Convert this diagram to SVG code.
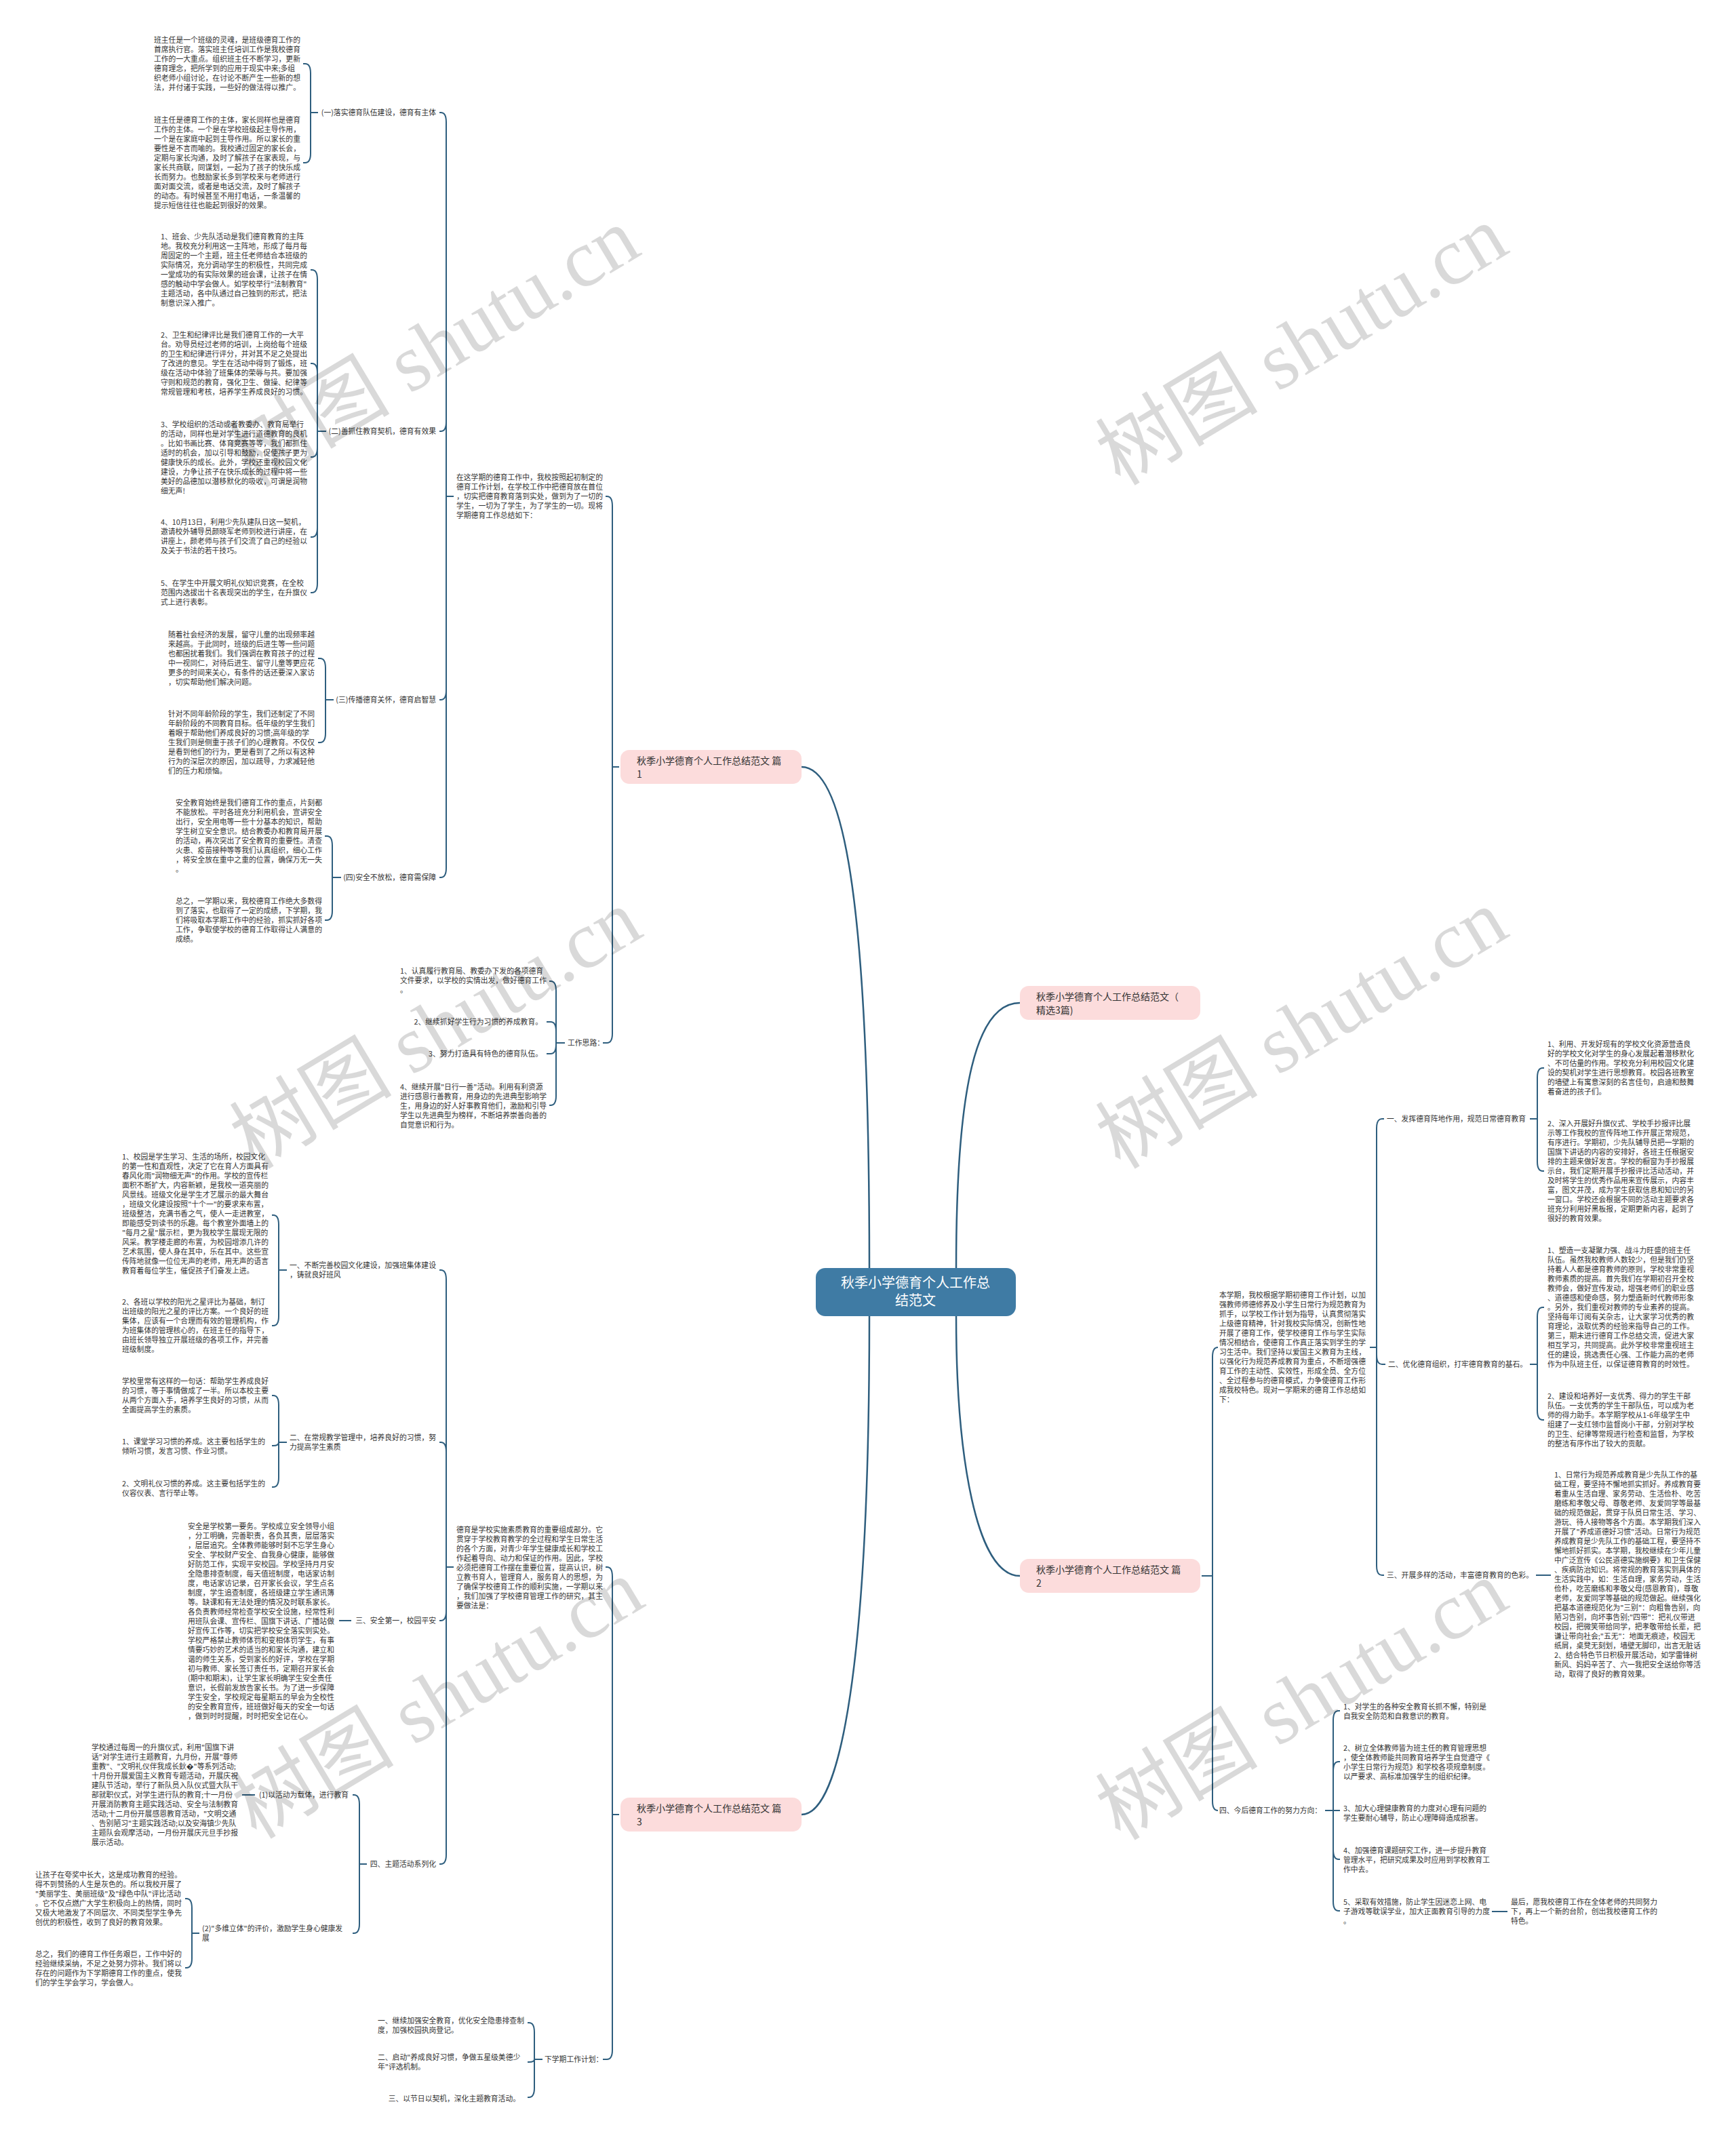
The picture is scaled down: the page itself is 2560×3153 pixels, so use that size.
<svg xmlns="http://www.w3.org/2000/svg" width="2560" height="3153" viewBox="0 0 2560 3153">
<style>
.t{font-family:"Noto Sans CJK SC","Noto Sans",sans-serif;font-size:10.8px;fill:#333}
.e{text-anchor:end}
.nd{font-family:"Noto Sans CJK SC","Noto Sans",sans-serif;font-size:14px;fill:#333}
.rt{font-family:"Noto Sans CJK SC","Noto Sans",sans-serif;font-size:20px;fill:#fff;text-anchor:middle}
.c{fill:none;stroke:#2e5e7e;stroke-width:2}
.cm{fill:none;stroke:#2e5e7e;stroke-width:2.5}
.pk{fill:#fcdcdc}
.wm{font-size:120px;fill:#000;fill-opacity:0.15;text-anchor:middle}
</style>
<rect width="2560" height="3153" fill="#fff"/>
<g id="connectors">
<path class="cm" d="M1282 1870 C1282 1300 1240 1131 1182 1131"/>
<path class="cm" d="M1410 1870 C1410 1600 1440 1479 1504 1479"/>
<path class="cm" d="M1410 1941 C1410 2150 1440 2324 1504 2324"/>
<path class="cm" d="M1282 1941 C1282 2450 1240 2676 1182 2676"/>
<path class="c" d="M913 1131 H903 V746 Q903 732 895 732 H893"/>
<path class="c" d="M913 1131 H903 V1524 Q903 1538 895 1538 H889"/>
<path class="c" d="M669 732 H658 V180 Q658 166 650 166 H648"/>
<path class="c" d="M669 732 H658 V622 Q658 636 650 636 H648"/>
<path class="c" d="M669 732 H658 V1018 Q658 1032 650 1032 H648"/>
<path class="c" d="M669 732 H658 V1280 Q658 1294 650 1294 H648"/>
<path class="c" d="M469 166 H458 V108 Q458 94 450 94 H447"/>
<path class="c" d="M469 166 H458 V226 Q458 240 450 240 H447"/>
<path class="c" d="M481 636 H468 V412 Q468 398 460 398 H458"/>
<path class="c" d="M481 636 H468 V550 Q468 536 460 536 H458"/>
<path class="c" d="M481 636 H468 V660 Q468 674 460 674 H458"/>
<path class="c" d="M481 636 H468 V778 Q468 792 460 792 H458"/>
<path class="c" d="M481 636 H468 V860 Q468 874 460 874 H458"/>
<path class="c" d="M492 1032 H480 V985 Q480 971 472 971 H469"/>
<path class="c" d="M492 1032 H480 V1081 Q480 1095 472 1095 H469"/>
<path class="c" d="M503 1294 H490 V1247 Q490 1233 482 1233 H479"/>
<path class="c" d="M503 1294 H490 V1343 Q490 1357 482 1357 H479"/>
<path class="c" d="M833 1538 H820 V1461 Q820 1447 812 1447 H810"/>
<path class="c" d="M833 1538 H820 V1521 Q820 1507 812 1507 H806"/>
<path class="c" d="M833 1538 H820 V1540 Q820 1554 812 1554 H806"/>
<path class="c" d="M833 1538 H820 V1616 Q820 1630 812 1630 H810"/>
<path class="c" d="M913 2676 H903 V2325 Q903 2311 895 2311 H893"/>
<path class="c" d="M913 2676 H903 V3023 Q903 3037 895 3037 H889"/>
<path class="c" d="M669 2311 H658 V1887 Q658 1873 650 1873 H648"/>
<path class="c" d="M669 2311 H658 V2141 Q658 2127 650 2127 H648"/>
<path class="c" d="M669 2311 H658 V2376 Q658 2390 650 2390 H648"/>
<path class="c" d="M669 2311 H658 V2735 Q658 2749 650 2749 H648"/>
<path class="c" d="M423 1873 H411 V1806 Q411 1792 403 1792 H401"/>
<path class="c" d="M423 1873 H411 V1941 Q411 1955 403 1955 H401"/>
<path class="c" d="M423 2127 H411 V2072 Q411 2058 403 2058 H401"/>
<path class="c" d="M423 2127 H411 Q411 2132 403 2132 H401"/>
<path class="c" d="M423 2127 H411 V2179 Q411 2193 403 2193 H401"/>
<path class="c" d="M518 2390 H500"/>
<path class="c" d="M541 2749 H530 V2661 Q530 2647 522 2647 H520"/>
<path class="c" d="M541 2749 H530 V2837 Q530 2851 522 2851 H520"/>
<path class="c" d="M376 2647 H357"/>
<path class="c" d="M294 2851 H283 V2814 Q283 2800 275 2800 H273"/>
<path class="c" d="M294 2851 H283 V2888 Q283 2902 275 2902 H273"/>
<path class="c" d="M800 3037 H788 V2997 Q788 2983 780 2983 H778"/>
<path class="c" d="M800 3037 H788 Q788 3041 780 3041 H778"/>
<path class="c" d="M800 3037 H788 V3079 Q788 3093 780 3093 H778"/>
<path class="c" d="M1772 2324 H1788 V2001 Q1788 1987 1796 1987"/>
<path class="c" d="M1772 2324 H1788 V2656 Q1788 2670 1796 2670"/>
<path class="c" d="M2020 1987 H2030 V1664 Q2030 1650 2038 1650 H2041"/>
<path class="c" d="M2020 1987 H2030 V1998 Q2030 2012 2038 2012 H2043"/>
<path class="c" d="M2020 1987 H2030 V2309 Q2030 2323 2038 2323 H2041"/>
<path class="c" d="M2256 1650 H2267 V1589 Q2267 1575 2275 1575 H2277"/>
<path class="c" d="M2256 1650 H2267 V1713 Q2267 1727 2275 1727 H2277"/>
<path class="c" d="M2256 2012 H2267 V1942 Q2267 1928 2275 1928 H2277"/>
<path class="c" d="M2256 2012 H2267 V2080 Q2267 2094 2275 2094 H2277"/>
<path class="c" d="M2265 2323 H2287"/>
<path class="c" d="M1954 2670 H1966 V2537 Q1966 2523 1974 2523 H1976"/>
<path class="c" d="M1954 2670 H1966 V2612 Q1966 2598 1974 2598 H1976"/>
<path class="c" d="M1954 2670 H1976"/>
<path class="c" d="M1954 2670 H1966 V2728 Q1966 2742 1974 2742 H1976"/>
<path class="c" d="M1954 2670 H1966 V2804 Q1966 2818 1974 2818 H1976"/>
<path class="c" d="M2200 2819 H2223"/>
</g>
<g id="root">
<rect x="1203" y="1870" width="295" height="71" rx="14" fill="#3f7ba4"/>
<text class="rt" x="1350" y="1899">秋季小学德育个人工作总</text>
<text class="rt" x="1350" y="1925">结范文</text>
</g>
<g id="b1">
<rect class="pk" x="915" y="1106" width="267" height="50" rx="13"/>
<text class="nd" x="939" y="1127">秋季小学德育个人工作总结范文 篇<tspan x="939" dy="20">1</tspan></text>
</g>
<g id="b0">
<rect class="pk" x="1504" y="1454" width="266" height="50" rx="13"/>
<text class="nd" x="1528" y="1475">秋季小学德育个人工作总结范文（<tspan x="1528" dy="20">精选3篇)</tspan></text>
</g>
<g id="b2">
<rect class="pk" x="1504" y="2299" width="266" height="50" rx="13"/>
<text class="nd" x="1528" y="2320">秋季小学德育个人工作总结范文 篇<tspan x="1528" dy="20">2</tspan></text>
</g>
<g id="b3">
<rect class="pk" x="915" y="2651" width="267" height="50" rx="13"/>
<text class="nd" x="939" y="2672">秋季小学德育个人工作总结范文 篇<tspan x="939" dy="20">3</tspan></text>
</g>
<g id="b1-intro">
<text class="t" x="673" y="708">在这学期的德育工作中，我校按照起初制定的<tspan x="673" dy="14">德育工作计划，在学校工作中把德育放在首位</tspan><tspan x="673" dy="14">，切实把德育教育落到实处，做到为了一切的</tspan><tspan x="673" dy="14">学生，一切为了学生，为了学生的一切。现将</tspan><tspan x="673" dy="14">学期德育工作总结如下：</tspan></text>
</g>
<g id="b1-l1"><text class="t e" x="643" y="170">(一)落实德育队伍建设，德育有主体</text></g>
<g id="b1-p1a">
<text class="t" x="227" y="63">班主任是一个班级的灵魂，是班级德育工作的<tspan x="227" dy="14">首席执行官。落实班主任培训工作是我校德育</tspan><tspan x="227" dy="14">工作的一大重点。组织班主任不断学习，更新</tspan><tspan x="227" dy="14">德育理念，把所学到的应用于现实中来;多组</tspan><tspan x="227" dy="14">织老师小组讨论，在讨论不断产生一些新的想</tspan><tspan x="227" dy="14">法，并付诸于实践，一些好的做法得以推广。</tspan></text>
</g>
<g id="b1-p1b">
<text class="t" x="227" y="181">班主任是德育工作的主体，家长同样也是德育<tspan x="227" dy="14">工作的主体。一个是在学校班级起主导作用，</tspan><tspan x="227" dy="14">一个是在家庭中起到主导作用。所以家长的重</tspan><tspan x="227" dy="14">要性是不言而喻的。我校通过固定的家长会，</tspan><tspan x="227" dy="14">定期与家长沟通，及时了解孩子在家表现，与</tspan><tspan x="227" dy="14">家长共商联，同谋划，一起为了孩子的快乐成</tspan><tspan x="227" dy="14">长而努力。也鼓励家长多到学校来与老师进行</tspan><tspan x="227" dy="14">面对面交流，或者是电话交流，及时了解孩子</tspan><tspan x="227" dy="14">的动态。有时候甚至不用打电话，一条温馨的</tspan><tspan x="227" dy="14">提示短信往往也能起到很好的效果。</tspan></text>
</g>
<g id="b1-l2"><text class="t e" x="643" y="640">(二)善抓住教育契机，德育有效果</text></g>
<g id="b1-p21">
<text class="t" x="237" y="353">1、班会、少先队活动是我们德育教育的主阵<tspan x="237" dy="14">地。我校充分利用这一主阵地，形成了每月每</tspan><tspan x="237" dy="14">周固定的一个主题，班主任老师结合本班级的</tspan><tspan x="237" dy="14">实际情况，充分调动学生的积极性，共同完成</tspan><tspan x="237" dy="14">一堂成功的有实际效果的班会课，让孩子在情</tspan><tspan x="237" dy="14">感的触动中学会做人。如学校举行"法制教育"</tspan><tspan x="237" dy="14">主题活动，各中队通过自己独到的形式，把法</tspan><tspan x="237" dy="14">制意识深入推广。</tspan></text>
</g>
<g id="b1-p22">
<text class="t" x="237" y="498">2、卫生和纪律评比是我们德育工作的一大平<tspan x="237" dy="14">台。劝导员经过老师的培训，上岗给每个班级</tspan><tspan x="237" dy="14">的卫生和纪律进行评分，并对其不足之处提出</tspan><tspan x="237" dy="14">了改进的意见。学生在活动中得到了锻炼，班</tspan><tspan x="237" dy="14">级在活动中体验了班集体的荣辱与共。要加强</tspan><tspan x="237" dy="14">守则和规范的教育，强化卫生、做操、纪律等</tspan><tspan x="237" dy="14">常规管理和考核，培养学生养成良好的习惯。</tspan></text>
</g>
<g id="b1-p23">
<text class="t" x="237" y="630">3、学校组织的活动或者教委办、教育局举行<tspan x="237" dy="14">的活动，同样也是对学生进行道德教育的良机</tspan><tspan x="237" dy="14">。比如书画比赛、体育竞赛等等，我们都抓住</tspan><tspan x="237" dy="14">适时的机会，加以引导和鼓励，促使孩子更为</tspan><tspan x="237" dy="14">健康快乐的成长。此外，学校还重视校园文化</tspan><tspan x="237" dy="14">建设，力争让孩子在快乐成长的过程中将一些</tspan><tspan x="237" dy="14">美好的品德加以潜移默化的吸收，可谓是润物</tspan><tspan x="237" dy="14">细无声!</tspan></text>
</g>
<g id="b1-p24">
<text class="t" x="237" y="774">4、10月13日，利用少先队建队日这一契机，<tspan x="237" dy="14">邀请校外辅导员颜晓军老师到校进行讲座，在</tspan><tspan x="237" dy="14">讲座上，颜老师与孩子们交流了自己的经验以</tspan><tspan x="237" dy="14">及关于书法的若干技巧。</tspan></text>
</g>
<g id="b1-p25">
<text class="t" x="237" y="864">5、在学生中开展文明礼仪知识竞赛，在全校<tspan x="237" dy="14">范围内选拔出十名表现突出的学生，在升旗仪</tspan><tspan x="237" dy="14">式上进行表彰。</tspan></text>
</g>
<g id="b1-l3"><text class="t e" x="643" y="1036">(三)传播德育关怀，德育启智慧</text></g>
<g id="b1-p31">
<text class="t" x="248" y="940">随着社会经济的发展，留守儿童的出现频率越<tspan x="248" dy="14">来越高。于此同时，班级的后进生等一些问题</tspan><tspan x="248" dy="14">也都困扰着我们。我们强调在教育孩子的过程</tspan><tspan x="248" dy="14">中一视同仁，对待后进生、留守儿童等更应花</tspan><tspan x="248" dy="14">更多的时间来关心，有条件的话还要深入家访</tspan><tspan x="248" dy="14">，切实帮助他们解决问题。</tspan></text>
</g>
<g id="b1-p32">
<text class="t" x="248" y="1057">针对不同年龄阶段的学生，我们还制定了不同<tspan x="248" dy="14">年龄阶段的不同教育目标。低年级的学生我们</tspan><tspan x="248" dy="14">着眼于帮助他们养成良好的习惯;高年级的学</tspan><tspan x="248" dy="14">生我们则是侧重于孩子们的心理教育。不仅仅</tspan><tspan x="248" dy="14">是看到他们的行为，更是看到了之所以有这种</tspan><tspan x="248" dy="14">行为的深层次的原因，加以疏导，力求减轻他</tspan><tspan x="248" dy="14">们的压力和烦恼。</tspan></text>
</g>
<g id="b1-l4"><text class="t e" x="643" y="1298">(四)安全不放松，德育需保障</text></g>
<g id="b1-p41">
<text class="t" x="259" y="1188">安全教育始终是我们德育工作的重点，片刻都<tspan x="259" dy="14">不能放松。平时各班充分利用机会，宣讲安全</tspan><tspan x="259" dy="14">出行，安全用电等一些十分基本的知识，帮助</tspan><tspan x="259" dy="14">学生树立安全意识。结合教委办和教育局开展</tspan><tspan x="259" dy="14">的活动，再次突出了安全教育的重要性。清查</tspan><tspan x="259" dy="14">火患、疫苗接种等等我们认真组织，细心工作</tspan><tspan x="259" dy="14">，将安全放在重中之重的位置，确保万无一失</tspan><tspan x="259" dy="14">。</tspan></text>
</g>
<g id="b1-p42">
<text class="t" x="259" y="1333">总之，一学期以来，我校德育工作绝大多数得<tspan x="259" dy="14">到了落实，也取得了一定的成绩，下学期，我</tspan><tspan x="259" dy="14">们将吸取本学期工作中的经验，抓实抓好各项</tspan><tspan x="259" dy="14">工作，争取使学校的德育工作取得让人满意的</tspan><tspan x="259" dy="14">成绩。</tspan></text>
</g>
<g id="b1-plan"><text class="t" x="837" y="1542">工作思路：</text></g>
<g id="b1-plan1">
<text class="t" x="590" y="1436">1、认真履行教育局、教委办下发的各项德育<tspan x="590" dy="14">文件要求，以学校的实情出发，做好德育工作</tspan><tspan x="590" dy="14">。</tspan></text>
</g>
<g id="b1-plan2"><text class="t e" x="800" y="1511">2、继续抓好学生行为习惯的养成教育。</text></g>
<g id="b1-plan3"><text class="t e" x="800" y="1558">3、努力打造具有特色的德育队伍。</text></g>
<g id="b1-plan4">
<text class="t" x="590" y="1607">4、继续开展"日行一善"活动。利用有利资源<tspan x="590" dy="14">进行感恩行善教育，用身边的先进典型影响学</tspan><tspan x="590" dy="14">生，用身边的好人好事教育他们，激励和引导</tspan><tspan x="590" dy="14">学生以先进典型为榜样，不断培养崇善向善的</tspan><tspan x="590" dy="14">自觉意识和行为。</tspan></text>
</g>
<g id="b3-intro">
<text class="t" x="673" y="2260">德育是学校实施素质教育的重要组成部分。它<tspan x="673" dy="14">贯穿于学校教育教学的全过程和学生日常生活</tspan><tspan x="673" dy="14">的各个方面，对青少年学生健康成长和学校工</tspan><tspan x="673" dy="14">作起着导向、动力和保证的作用。因此，学校</tspan><tspan x="673" dy="14">必须把德育工作摆在重要位置，提高认识，树</tspan><tspan x="673" dy="14">立教书育人，管理育人，服务育人的思想，为</tspan><tspan x="673" dy="14">了确保学校德育工作的顺利实施，一学期以来</tspan><tspan x="673" dy="14">，我们加强了学校德育管理工作的研究，其主</tspan><tspan x="673" dy="14">要做法是：</tspan></text>
</g>
<g id="b3-l1"><text class="t" x="427" y="1870">一、不断完善校园文化建设，加强班集体建设<tspan x="427" dy="14">，铸就良好班风</tspan></text></g>
<g id="b3-p11">
<text class="t" x="180" y="1710">1、校园是学生学习、生活的场所，校园文化<tspan x="180" dy="14">的第一性和直观性，决定了它在育人方面具有</tspan><tspan x="180" dy="14">春风化雨"润物细无声"的作用。学校的宣传栏</tspan><tspan x="180" dy="14">面积不断扩大，内容新颖，是我校一道亮丽的</tspan><tspan x="180" dy="14">风景线。班级文化是学生才艺展示的最大舞台</tspan><tspan x="180" dy="14">，班级文化建设按照"十个一"的要求来布置，</tspan><tspan x="180" dy="14">班级整洁，充满书香之气，使人一走进教室，</tspan><tspan x="180" dy="14">即能感受到读书的乐趣。每个教室外面墙上的</tspan><tspan x="180" dy="14">"每月之星"展示栏，更为我校学生展现无限的</tspan><tspan x="180" dy="14">风采。教学楼走廊的布置，为校园增添几许的</tspan><tspan x="180" dy="14">艺术氛围，使人身在其中，乐在其中。这些宣</tspan><tspan x="180" dy="14">传阵地就像一位位无声的老师，用无声的语言</tspan><tspan x="180" dy="14">教育着每位学生，催促孩子们奋发上进。</tspan></text>
</g>
<g id="b3-p12">
<text class="t" x="180" y="1924">2、各班以学校的阳光之星评比为基础，制订<tspan x="180" dy="14">出班级的阳光之星的评比方案。一个良好的班</tspan><tspan x="180" dy="14">集体，应该有一个合理而有效的管理机构，作</tspan><tspan x="180" dy="14">为班集体的管理核心的，在班主任的指导下，</tspan><tspan x="180" dy="14">由班长领导独立开展班级的各项工作，并完善</tspan><tspan x="180" dy="14">班级制度。</tspan></text>
</g>
<g id="b3-l2"><text class="t" x="427" y="2124">二、在常规教学管理中，培养良好的习惯，努<tspan x="427" dy="14">力提高学生素质</tspan></text></g>
<g id="b3-p21">
<text class="t" x="180" y="2041">学校里常有这样的一句话：帮助学生养成良好<tspan x="180" dy="14">的习惯，等于事情做成了一半。所以本校主要</tspan><tspan x="180" dy="14">从两个方面入手，培养学生良好的习惯，从而</tspan><tspan x="180" dy="14">全面提高学生的素质。</tspan></text>
</g>
<g id="b3-p22"><text class="t" x="180" y="2130">1、课堂学习习惯的养成。这主要包括学生的<tspan x="180" dy="14">倾听习惯，发言习惯、作业习惯。</tspan></text></g>
<g id="b3-p23"><text class="t" x="180" y="2192">2、文明礼仪习惯的养成。这主要包括学生的<tspan x="180" dy="14">仪容仪表、言行举止等。</tspan></text></g>
<g id="b3-l3"><text class="t e" x="643" y="2394">三、安全第一，校园平安</text></g>
<g id="b3-p31">
<text class="t" x="277" y="2255">安全是学校第一要务。学校成立安全领导小组<tspan x="277" dy="14">，分工明确，完善职责，各负其责，层层落实</tspan><tspan x="277" dy="14">，层层追究。全体教师能够时刻不忘学生身心</tspan><tspan x="277" dy="14">安全、学校财产安全、自我身心健康，能够做</tspan><tspan x="277" dy="14">好防范工作，实现平安校园。学校坚持月月安</tspan><tspan x="277" dy="14">全隐患排查制度，每天值班制度，电话家访制</tspan><tspan x="277" dy="14">度，电话家访记录，召开家长会议，学生点名</tspan><tspan x="277" dy="14">制度，学生追查制度，各班级建立学生通讯簿</tspan><tspan x="277" dy="14">等。缺课和有无法处理的情况及时联系家长。</tspan><tspan x="277" dy="14">各负责教师经常检查学校安全设施，经常性利</tspan><tspan x="277" dy="14">用班队会课、宣传栏、国旗下讲话、广播站做</tspan><tspan x="277" dy="14">好宣传工作等，切实把学校安全落实到实处。</tspan><tspan x="277" dy="14">学校严格禁止教师体罚和变相体罚学生，有事</tspan><tspan x="277" dy="14">情要巧妙的艺术的适当的和家长沟通，建立和</tspan><tspan x="277" dy="14">谐的师生关系，受到家长的好评，学校在学期</tspan><tspan x="277" dy="14">初与教师、家长签订责任书，定期召开家长会</tspan><tspan x="277" dy="14">(期中和期末)，让学生家长明确学生安全责任</tspan><tspan x="277" dy="14">意识，长假前发放告家长书。为了进一步保障</tspan><tspan x="277" dy="14">学生安全，学校规定每星期五的早会为全校性</tspan><tspan x="277" dy="14">的安全教育宣传，班班做好每天的安全一句话</tspan><tspan x="277" dy="14">，做到时时提醒，时时把安全记在心。</tspan></text>
</g>
<g id="b3-l4"><text class="t e" x="643" y="2753">四、主题活动系列化</text></g>
<g id="b3-l41"><text class="t e" x="514" y="2651">(1)以活动为载体，进行教育</text></g>
<g id="b3-p41">
<text class="t" x="135" y="2581">学校通过每周一的升旗仪式，利用"国旗下讲<tspan x="135" dy="14">话"对学生进行主题教育，九月份，开展"尊师</tspan><tspan x="135" dy="14">重教"、"文明礼仪伴我成长鈥�"等系列活动;</tspan><tspan x="135" dy="14">十月份开展爱国主义教育专题活动，开展庆祝</tspan><tspan x="135" dy="14">建队节活动，举行了新队员入队仪式暨大队干</tspan><tspan x="135" dy="14">部就职仪式，对学生进行队的教育;十一月份</tspan><tspan x="135" dy="14">开展消防教育主题实践活动、安全与法制教育</tspan><tspan x="135" dy="14">活动;十二月份开展感恩教育活动，"文明交通</tspan><tspan x="135" dy="14">、告别陋习"主题实践活动;以及安海镇少先队</tspan><tspan x="135" dy="14">主题队会观摩活动，一月份开展庆元旦手抄报</tspan><tspan x="135" dy="14">展示活动。</tspan></text>
</g>
<g id="b3-l42"><text class="t" x="298" y="2848">(2)"多维立体"的评价，激励学生身心健康发<tspan x="298" dy="14">展</tspan></text></g>
<g id="b3-p42">
<text class="t" x="52" y="2769">让孩子在夸奖中长大，这是成功教育的经验。<tspan x="52" dy="14">得不到赞扬的人生是灰色的。所以我校开展了</tspan><tspan x="52" dy="14">"美丽学生、美丽班级"及"绿色中队"评比活动</tspan><tspan x="52" dy="14">。它不仅点燃广大学生积极向上的热情，同时</tspan><tspan x="52" dy="14">又极大地激发了不同层次、不同类型学生争先</tspan><tspan x="52" dy="14">创优的积极性，收到了良好的教育效果。</tspan></text>
</g>
<g id="b3-p43">
<text class="t" x="52" y="2886">总之，我们的德育工作任务艰巨，工作中好的<tspan x="52" dy="14">经验继续采纳，不足之处努力弥补。我们将以</tspan><tspan x="52" dy="14">存在的问题作为下学期德育工作的重点，使我</tspan><tspan x="52" dy="14">们的学生学会学习，学会做人。</tspan></text>
</g>
<g id="b3-next"><text class="t" x="803" y="3041">下学期工作计划：</text></g>
<g id="b3-n1"><text class="t" x="557" y="2984">一、继续加强安全教育，优化安全隐患排查制<tspan x="557" dy="14">度，加强校园执岗登记。</tspan></text></g>
<g id="b3-n2"><text class="t" x="557" y="3038">二、启动"养成良好习惯，争做五星级美德少<tspan x="557" dy="14">年"评选机制。</tspan></text></g>
<g id="b3-n3"><text class="t e" x="767" y="3099">三、以节日以契机，深化主题教育活动。</text></g>
<g id="b2-intro">
<text class="t" x="1798" y="1914">本学期，我校根据学期初德育工作计划，以加<tspan x="1798" dy="14">强教师师德修养及小学生日常行为规范教育为</tspan><tspan x="1798" dy="14">抓手，以学校工作计划为指导，认真贯彻落实</tspan><tspan x="1798" dy="14">上级德育精神，针对我校实际情况，创新性地</tspan><tspan x="1798" dy="14">开展了德育工作，使学校德育工作与学生实际</tspan><tspan x="1798" dy="14">情况相结合，使德育工作真正落实到学生的学</tspan><tspan x="1798" dy="14">习生活中。我们坚持以爱国主义教育为主线，</tspan><tspan x="1798" dy="14">以强化行为规范养成教育为重点，不断增强德</tspan><tspan x="1798" dy="14">育工作的主动性、实效性，形成全员、全方位</tspan><tspan x="1798" dy="14">、全过程参与的德育模式，力争使德育工作形</tspan><tspan x="1798" dy="14">成我校特色。现对一学期来的德育工作总结如</tspan><tspan x="1798" dy="14">下：</tspan></text>
</g>
<g id="b2-l1"><text class="t" x="2045" y="1654">一、发挥德育阵地作用，规范日常德育教育</text></g>
<g id="b2-p11">
<text class="t" x="2282" y="1544">1、利用、开发好现有的学校文化资源营造良<tspan x="2282" dy="14">好的学校文化对学生的身心发展起着潜移默化</tspan><tspan x="2282" dy="14">、不可估量的作用。学校充分利用校园文化建</tspan><tspan x="2282" dy="14">设的契机对学生进行思想教育。校园各班教室</tspan><tspan x="2282" dy="14">的墙壁上有寓意深刻的名言佳句，启迪和鼓舞</tspan><tspan x="2282" dy="14">着奋进的孩子们。</tspan></text>
</g>
<g id="b2-p12">
<text class="t" x="2282" y="1661">2、深入开展好升旗仪式、学校手抄报评比展<tspan x="2282" dy="14">示等工作我校的宣传阵地工作开展正常规范，</tspan><tspan x="2282" dy="14">有序进行。学期初，少先队辅导员把一学期的</tspan><tspan x="2282" dy="14">国旗下讲话的内容的安排好，各班主任根据安</tspan><tspan x="2282" dy="14">排的主题来做好发言。学校的橱窗为手抄报展</tspan><tspan x="2282" dy="14">示台，我们定期开展手抄报评比活动活动，并</tspan><tspan x="2282" dy="14">及时将学生的优秀作品用来宣传展示，内容丰</tspan><tspan x="2282" dy="14">富，图文并茂，成为学生获取信息和知识的另</tspan><tspan x="2282" dy="14">一窗口。学校还会根据不同的活动主题要求各</tspan><tspan x="2282" dy="14">班充分利用好黑板报，定期更新内容，起到了</tspan><tspan x="2282" dy="14">很好的教育效果。</tspan></text>
</g>
<g id="b2-l2"><text class="t" x="2047" y="2016">二、优化德育组织，打牢德育教育的基石。</text></g>
<g id="b2-p21">
<text class="t" x="2282" y="1848">1、塑造一支凝聚力强、战斗力旺盛的班主任<tspan x="2282" dy="14">队伍。虽然我校教师人数较少，但是我们仍坚</tspan><tspan x="2282" dy="14">持着人人都是德育教师的原则，学校非常重视</tspan><tspan x="2282" dy="14">教师素质的提高。首先我们在学期初召开全校</tspan><tspan x="2282" dy="14">教师会，做好宣传发动，增强老师们的职业感</tspan><tspan x="2282" dy="14">、道德感和使命感，努力塑造新时代教师形象</tspan><tspan x="2282" dy="14">。另外，我们重视对教师的专业素养的提高。</tspan><tspan x="2282" dy="14">坚持每年订阅有关杂志，让大家学习优秀的教</tspan><tspan x="2282" dy="14">育理论，汲取优秀的经验来指导自己的工作。</tspan><tspan x="2282" dy="14">第三，期末进行德育工作总结交流，促进大家</tspan><tspan x="2282" dy="14">相互学习，共同提高。此外学校非常重视班主</tspan><tspan x="2282" dy="14">任的建设，挑选责任心强、工作能力高的老师</tspan><tspan x="2282" dy="14">作为中队班主任，以保证德育教育的时效性。</tspan></text>
</g>
<g id="b2-p22">
<text class="t" x="2282" y="2063">2、建设和培养好一支优秀、得力的学生干部<tspan x="2282" dy="14">队伍。一支优秀的学生干部队伍，可以成为老</tspan><tspan x="2282" dy="14">师的得力助手。本学期学校从1-6年级学生中</tspan><tspan x="2282" dy="14">组建了一支红领巾监督岗小干部，分别对学校</tspan><tspan x="2282" dy="14">的卫生、纪律等常规进行检查和监督，为学校</tspan><tspan x="2282" dy="14">的整洁有序作出了较大的贡献。</tspan></text>
</g>
<g id="b2-l3"><text class="t" x="2045" y="2327">三、开展多样的活动，丰富德育教育的色彩。</text></g>
<g id="b2-p31">
<text class="t" x="2292" y="2179">1、日常行为规范养成教育是少先队工作的基<tspan x="2292" dy="14">础工程，要坚持不懈地抓实抓好。养成教育要</tspan><tspan x="2292" dy="14">着重从生活自理、家务劳动、生活俭朴、吃苦</tspan><tspan x="2292" dy="14">磨练和孝敬父母、尊敬老师、友爱同学等最基</tspan><tspan x="2292" dy="14">础的规范做起，贯穿于队员日常生活、学习、</tspan><tspan x="2292" dy="14">游玩、待人接物等各个方面。本学期我们深入</tspan><tspan x="2292" dy="14">开展了"养成道德好习惯"活动。日常行为规范</tspan><tspan x="2292" dy="14">养成教育是少先队工作的基础工程，要坚持不</tspan><tspan x="2292" dy="14">懈地抓好抓实。本学期，我校继续在少年儿童</tspan><tspan x="2292" dy="14">中广泛宣传《公民道德实施纲要》和卫生保健</tspan><tspan x="2292" dy="14">、疾病防治知识。将常规的教育落实到具体的</tspan><tspan x="2292" dy="14">生活实践中，如：生活自理，家务劳动，生活</tspan><tspan x="2292" dy="14">俭朴，吃苦磨练和孝敬父母(感恩教育)，尊敬</tspan><tspan x="2292" dy="14">老师，友爱同学等基础的规范做起。继续强化</tspan><tspan x="2292" dy="14">把基本道德规范化为"三别"：向粗鲁告别，向</tspan><tspan x="2292" dy="14">陋习告别，向坏事告别;"四带"：把礼仪带进</tspan><tspan x="2292" dy="14">校园，把微笑带给同学，把孝敬带给长辈，把</tspan><tspan x="2292" dy="14">谦让带向社会;"五无"：地面无痕迹，校园无</tspan><tspan x="2292" dy="14">纸屑，桌凳无刻划，墙壁无脚印，出言无脏话</tspan><tspan x="2292" dy="14">2、结合特色节日积极开展活动，如学雷锋树</tspan><tspan x="2292" dy="14">新风、妈妈辛苦了、六一我把安全送给你等活</tspan><tspan x="2292" dy="14">动，取得了良好的教育效果。</tspan></text>
</g>
<g id="b2-l4"><text class="t" x="1798" y="2674">四、今后德育工作的努力方向：</text></g>
<g id="b2-p41"><text class="t" x="1981" y="2521">1、对学生的各种安全教育长抓不懈，特别是<tspan x="1981" dy="14">自我安全防范和自救意识的教育。</tspan></text></g>
<g id="b2-p42"><text class="t" x="1981" y="2582">2、树立全体教师皆为班主任的教育管理思想<tspan x="1981" dy="14">，使全体教师能共同教育培养学生自觉遵守《</tspan><tspan x="1981" dy="14">小学生日常行为规范》和学校各项规章制度。</tspan><tspan x="1981" dy="14">以严要求、高标准加强学生的组织纪律。</tspan></text></g>
<g id="b2-p43"><text class="t" x="1981" y="2671">3、加大心理健康教育的力度对心理有问题的<tspan x="1981" dy="14">学生要耐心辅导，防止心理障碍造成损害。</tspan></text></g>
<g id="b2-p44"><text class="t" x="1981" y="2733">4、加强德育课题研究工作，进一步提升教育<tspan x="1981" dy="14">管理水平，把研究成果及时应用到学校教育工</tspan><tspan x="1981" dy="14">作中去。</tspan></text></g>
<g id="b2-p45"><text class="t" x="1981" y="2809">5、采取有效措施，防止学生因迷恋上网、电<tspan x="1981" dy="14">子游戏等耽误学业，加大正面教育引导的力度</tspan><tspan x="1981" dy="14">。</tspan></text></g>
<g id="b2-p46"><text class="t" x="2228" y="2809">最后，愿我校德育工作在全体老师的共同努力<tspan x="2228" dy="14">下，再上一个新的台阶，创出我校德育工作的</tspan><tspan x="2228" dy="14">特色。</tspan></text></g>
<g id="watermarks">
<text class="wm" transform="translate(640,513) rotate(-31)" y="40"><tspan font-family="Noto Sans CJK SC">树图</tspan><tspan font-family="Liberation Serif"> shutu.cn</tspan></text>
<text class="wm" transform="translate(1920,510) rotate(-31)" y="40"><tspan font-family="Noto Sans CJK SC">树图</tspan><tspan font-family="Liberation Serif"> shutu.cn</tspan></text>
<text class="wm" transform="translate(643,1518) rotate(-31)" y="40"><tspan font-family="Noto Sans CJK SC">树图</tspan><tspan font-family="Liberation Serif"> shutu.cn</tspan></text>
<text class="wm" transform="translate(1920,1518) rotate(-31)" y="40"><tspan font-family="Noto Sans CJK SC">树图</tspan><tspan font-family="Liberation Serif"> shutu.cn</tspan></text>
<text class="wm" transform="translate(646,2506) rotate(-31)" y="40"><tspan font-family="Noto Sans CJK SC">树图</tspan><tspan font-family="Liberation Serif"> shutu.cn</tspan></text>
<text class="wm" transform="translate(1920,2508) rotate(-31)" y="40"><tspan font-family="Noto Sans CJK SC">树图</tspan><tspan font-family="Liberation Serif"> shutu.cn</tspan></text>
</g>
</svg>
